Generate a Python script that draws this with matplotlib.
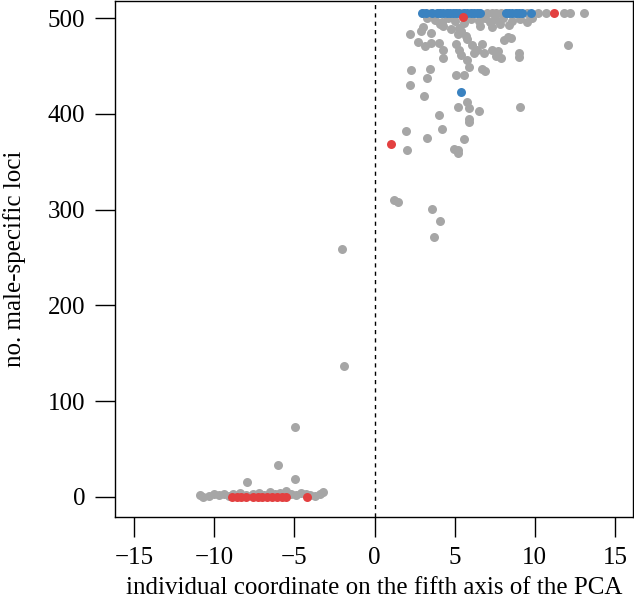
import numpy as np
import matplotlib
matplotlib.use('Agg')
import matplotlib.pyplot as plt

plt.rcParams['font.family'] = ['Liberation Serif', 'DejaVu Serif']

# grey individuals
grey_x = [3.0, 3.5, 4.0, 4.5, 5.0, 5.5, 6.0, 6.5, 7.0, 7.3, 7.6, 7.9, 8.2, 8.8, 9.5,
          10.2, 10.7, 11.8, 12.2, 13.1,
          3.8, 4.2, 4.6, 5.0, 5.6, 6.0, 6.5, 6.9, 7.2, 7.5, 7.8, 8.0, 8.6, 9.1, 9.5,
          4.3, 5.3, 6.6, 7.3, 8.4, 9.8, 3.3,
          2.2, 3.0, 2.9, 3.5, 4.1, 4.75, 5.2, 5.4, 5.7, 5.8, 2.7, 3.15, 3.5, 4.0,
          4.3, 4.3, 5.1, 5.3, 5.4, 5.8, 5.9, 6.1, 6.2, 6.4, 6.7, 6.8, 6.7, 6.9,
          7.35, 7.7, 7.6, 7.9, 8.1, 8.3, 8.5, 9.0, 9.0, 12.1,
          2.3, 3.45, 3.25, 5.1, 5.6, 2.2, 3.1, 5.8, 5.2, 5.9, 6.5, 4.0, 5.9, 5.9,
          9.1, 1.95, 4.2, 3.3, 5.6, 2.05, 4.95, 5.2, 5.2,
          1.2, 1.45, 3.6, 4.1, 3.7,
          -2.0, -1.9,
          -7.95, -4.96, -6.0, -4.96,
          -10.9, -10.7, -10.3, -10.0, -9.7, -9.4, -9.1, -8.8, -8.4, -8.0, -7.6,
          -7.2, -6.9, -6.5, -6.2, -5.9, -5.5, -5.2, -4.9, -4.6, -4.3, -4.0, -3.7,
          -3.4, -3.2]
grey_y = [505, 505, 505, 505, 505, 505, 505, 505, 505, 505, 505, 505, 505, 505, 505,
          505, 505, 505, 505, 505,
          498, 496, 500, 497, 495, 499, 497, 500, 496, 499, 494, 500, 497, 499, 496,
          492, 490, 492, 491, 493, 500, 500,
          483, 491, 487, 485, 494, 489, 483, 487, 481, 478, 475, 471, 474, 474,
          467, 458, 473, 467, 462, 456, 449, 472, 464, 467, 473, 464, 447, 445,
          467, 466, 460, 458, 477, 480, 479, 464, 459, 472,
          446, 447, 438, 441, 441, 430, 419, 412, 407, 406, 403, 399, 395, 392,
          407, 382, 384, 375, 374, 362, 363, 362, 359,
          310, 308, 301, 288, 271,
          259, 137,
          16, 19, 33, 73,
          2, 0, 1, 3, 2, 3, 1, 3, 4, 2, 3,
          4, 2, 5, 3, 4, 6, 3, 2, 4, 3, 2, 1,
          3, 5]

# blue individuals
blue_x = [2.95, 3.2, 3.6, 3.9, 4.1, 4.3, 4.5, 4.7, 4.9, 5.1, 5.3, 5.6, 5.8, 6.0,
          6.2, 6.4, 6.6, 8.2, 8.4, 8.6, 8.8, 9.0, 9.2, 9.75, 5.4]
blue_y = [505] * 24 + [423]

# red individuals
red_x = [5.5, 11.2, 1.04, -8.9, -8.6, -8.3, -8.0, -7.6, -7.3, -7.0, -6.7, -6.4,
         -6.1, -5.8, -5.5, -4.2]
red_y = [501, 505, 369] + [0] * 13

fig = plt.figure(figsize=(6.34, 6.03), dpi=100)
ax = fig.add_axes([0.1814, 0.1426, 0.8170, 0.8554])

ax.scatter(grey_x, grey_y, s=42, color='#a6a6a6', linewidths=0, zorder=2)
ax.scatter(blue_x, blue_y, s=42, color='#3a82c0', linewidths=0, zorder=3)
ax.scatter(red_x, red_y, s=42, color='#e34040', linewidths=0, zorder=4)
ax.axvline(0, color='black', linestyle=(0, (3, 3)), linewidth=1, zorder=1)

ax.set_xlim(-16.19, 16.125)
ax.set_ylim(-20.9, 517.7)
ax.set_xticks([-15, -10, -5, 0, 5, 10, 15])
ax.set_xticklabels(['\u221215', '\u221210', '\u22125', '0', '5', '10', '15'])
ax.set_yticks([0, 100, 200, 300, 400, 500])
ax.tick_params(length=14.4, width=1, labelsize=18, pad=7)
for sp in ax.spines.values():
    sp.set_linewidth(1)

ax.set_xlabel('individual coordinate on the fifth axis of the PCA', fontsize=18, labelpad=6)
ax.set_ylabel('no. male-specific loci', fontsize=18)
ax.yaxis.set_label_coords(-0.172, 0.5)

fig.savefig('out.png', dpi=100)
